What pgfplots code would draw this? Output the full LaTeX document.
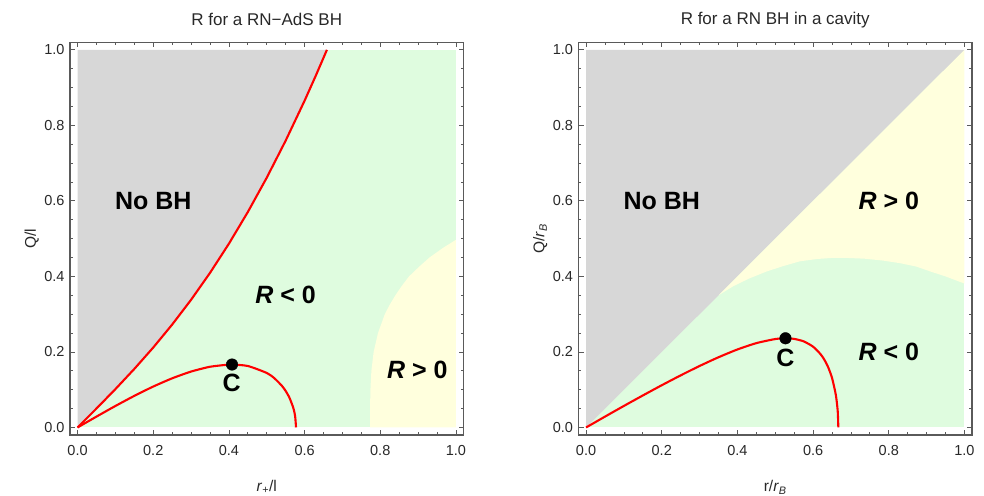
\documentclass[border=0pt]{standalone}
\usepackage{pgfplots}
\pgfplotsset{compat=1.18}
\usepackage{fontspec}
\setmainfont{Liberation Sans}

\definecolor{nobh}{RGB}{215,215,215}
\definecolor{rneg}{RGB}{223,252,223}
\definecolor{rpos}{RGB}{255,255,221}
\definecolor{framec}{RGB}{90,90,90}
\definecolor{textc}{RGB}{40,40,40}

\tikzset{
  regionlabel/.style={font=\fontsize{25}{28}\selectfont\bfseries, text=black},
}

\pgfplotsset{
  phase/.style={
    scale only axis,
    width=393.5pt, height=392.7pt,
    xmin=-0.02, xmax=1.02, ymin=-0.02, ymax=1.02,
    axis line style={framec, line width=1.1pt},
    every tick/.style={framec, line width=0.8pt},
    major tick length=5pt, minor tick length=2.8pt,
    tick align=inside,
    xtick={0,0.2,0.4,0.6,0.8,1.0},
    ytick={0,0.2,0.4,0.6,0.8,1.0},
    xticklabels={0.0,0.2,0.4,0.6,0.8,1.0},
    yticklabels={0.0,0.2,0.4,0.6,0.8,1.0},
    minor x tick num=3, minor y tick num=3,
    tick label style={font=\fontsize{14.5}{16}\selectfont, text=textc},
    xticklabel style={yshift=-7pt},
    yticklabel style={xshift=-2pt},
    label style={font=\fontsize{15.5}{17}\selectfont, text=textc},
    xlabel style={at={(axis description cs:0.5,-0.133)}, anchor=center},
    ylabel style={at={(axis description cs:-0.097,0.5)}, anchor=center},
    title style={at={(axis description cs:0.5,1.042)}, anchor=center, yshift=0pt,
      font=\fontsize{17}{19}\selectfont, text=textc},
    axis on top,
  },
  redcurve/.style={red, line width=2.1pt, line join=round},
}

\begin{document}
\begin{tikzpicture}
\useasboundingbox (0,0) rectangle (984pt,495pt);

% ---------------- RN-AdS black hole ----------------
\begin{axis}[phase, at={(70pt,60pt)}, anchor=south west,
  title={R for a RN−AdS BH},
  xlabel={\textit{r}\textsubscript{+}/l},
  ylabel={Q/l}]
  % background: R<0
  \addplot[fill=rneg, draw=none] coordinates {(0,0)(1,0)(1,1)(0,1)} -- cycle;
  % no black hole above the extremal line
  \addplot[fill=nobh, draw=none] coordinates {
    (0,0)(0.05,0.05019)(0.1,0.10149)(0.15,0.15498)(0.2,0.21166)(0.25,0.27243)
    (0.3,0.33808)(0.35,0.40929)(0.4,0.48662)(0.45,0.57054)(0.5,0.66144)
    (0.55,0.75962)(0.6,0.86533)(0.63,0.93246)(0.658983,1)(0,1)} -- cycle;
  % R>0
  \addplot[fill=rpos, draw=none] coordinates {
    (0.773,0)(0.773,0.05)(0.774,0.1)(0.7765,0.15)(0.7825,0.2)(0.794,0.25)
    (0.812,0.3)(0.825,0.325)(0.840,0.35)(0.857,0.375)(0.876,0.4)(0.902,0.425)
    (0.930,0.45)(0.965,0.475)(1,0.497)(1,0)} -- cycle;
  % extremal line
  \addplot[redcurve] coordinates {
    (0,0)(0.05,0.05019)(0.1,0.10149)(0.15,0.15498)(0.2,0.21166)(0.25,0.27243)
    (0.3,0.33808)(0.35,0.40929)(0.4,0.48662)(0.45,0.57054)(0.5,0.66144)
    (0.55,0.75962)(0.6,0.86533)(0.63,0.93246)(0.658983,1)};
  % spinodal curve
  \addplot[redcurve, smooth, tension=0.4] coordinates {
    (0,0)(0.05,0.02876)(0.1,0.05686)(0.15,0.08363)(0.2,0.10832)(0.25,0.13010)
    (0.3,0.14799)(0.35,0.16071)(0.4,0.16653)(0.40825,0.16667)(0.45,0.16277)
    (0.5,0.14434)(0.52,0.13045)(0.54,0.11031)(0.55,0.09658)(0.56,0.07867)
    (0.57,0.05234)(0.575,0.02992)(0.57735,0)};
  % critical point
  \addplot[only marks, mark=*, mark size=5.8pt, black] coordinates {(0.40825,0.16667)};
  \node[regionlabel] at (axis cs:0.2,0.6) {No BH};
  \node[regionlabel] at (axis cs:0.55,0.35) {\textit{R} < 0};
  \node[regionlabel] at (axis cs:0.898,0.152) {\textit{R} > 0};
  \node[regionlabel] at (axis cs:0.407,0.117) {C};
\end{axis}

% ---------------- RN black hole in a cavity ----------------
\begin{axis}[phase, at={(578.5pt,60pt)}, anchor=south west,
  title={R for a RN BH in a cavity},
  xlabel={r/\textit{r}\textsubscript{\textit{B}}},
  ylabel={Q/\textit{r}\textsubscript{\textit{B}}}]
  \addplot[fill=rneg, draw=none] coordinates {(0,0)(1,0)(1,1)(0,1)} -- cycle;
  \addplot[fill=nobh, draw=none] coordinates {(0,0)(1,1)(0,1)} -- cycle;
  \addplot[fill=rpos, draw=none] coordinates {
    (0.35,0.35)(1,1)(1,0.381)(0.95,0.400)(0.91,0.413)(0.873,0.426)(0.83,0.435)
    (0.784,0.442)(0.735,0.447)(0.688,0.449)(0.65,0.449)(0.61,0.446)(0.565,0.440)
    (0.52,0.427)(0.477,0.413)(0.43,0.394)(0.389,0.374)(0.35,0.35)} -- cycle;
  \addplot[redcurve, smooth, tension=0.4] coordinates {
    (0,0)(0.05,0.0287)(0.1,0.0570)(0.15,0.0847)(0.2,0.1118)(0.25,0.1379)
    (0.3,0.1628)(0.35,0.1859)(0.4,0.2065)(0.45,0.2233)(0.5,0.2341)
    (0.527,0.2361)(0.55,0.2345)(0.575,0.2280)(0.6,0.2139)(0.62,0.1937)
    (0.63,0.1789)(0.64,0.1591)(0.65,0.1313)(0.66,0.0868)(0.665,0.0444)
    (0.6667,0)};
  \addplot[only marks, mark=*, mark size=5.8pt, black] coordinates {(0.527,0.2361)};
  \node[regionlabel] at (axis cs:0.2,0.6) {No BH};
  \node[regionlabel] at (axis cs:0.8,0.6) {\textit{R} > 0};
  \node[regionlabel] at (axis cs:0.8,0.2) {\textit{R} < 0};
  \node[regionlabel] at (axis cs:0.527,0.185) {C};
\end{axis}
\end{tikzpicture}
\end{document}
